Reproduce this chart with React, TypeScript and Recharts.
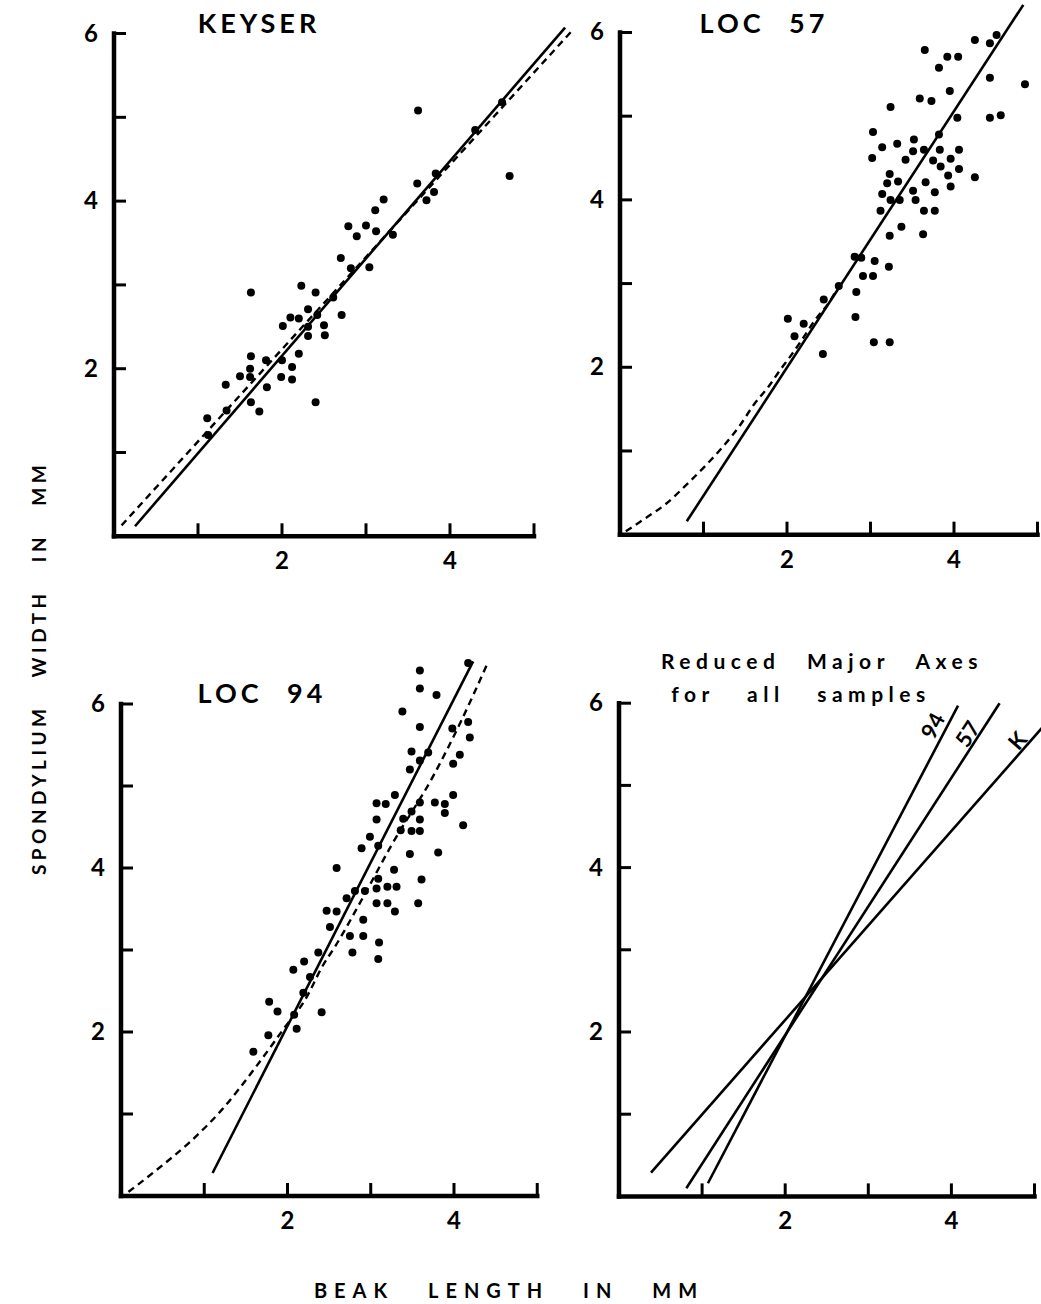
import React from 'react';
import { ComposedChart, XAxis, YAxis, Scatter, Line, ReferenceLine, ReferenceDot } from 'recharts';

// ---------- data ----------
const xTickValues = [1, 2, 3, 4, 5];
const yTickValues = [1, 2, 3, 4, 5, 6];
const xTickLabels: Record<number, string> = { 2: '2', 4: '4' };
const yTickLabels: Record<number, string> = { 2: '2', 4: '4', 6: '6' };

const keyserPoints = [
  [3.62, 5.08], [4.71, 4.3], [3.61, 4.21], [3.72, 4.01], [3.81, 4.11], [3.83, 4.33], [3.21, 4.02],
  [3.11, 3.89], [2.79, 3.7], [3.0, 3.71], [2.89, 3.58], [3.12, 3.64], [3.32, 3.6], [2.7, 3.32],
  [3.04, 3.21], [2.82, 3.2], [1.63, 2.91], [2.23, 2.99], [2.4, 2.91], [2.61, 2.85], [2.71, 2.64],
  [2.31, 2.71], [2.42, 2.64], [2.1, 2.61], [2.2, 2.6], [2.01, 2.51], [2.31, 2.5], [2.5, 2.52],
  [2.31, 2.39], [2.51, 2.4], [2.2, 2.18], [1.63, 2.15], [1.81, 2.1], [2.0, 2.1], [2.12, 2.02],
  [1.5, 1.91], [1.62, 2.0], [1.62, 1.9], [1.33, 1.81], [1.82, 1.78], [1.99, 1.9], [2.12, 1.87],
  [1.63, 1.6], [1.73, 1.49], [2.4, 1.6], [1.34, 1.5], [1.11, 1.41], [1.12, 1.21], [4.3, 4.85], [4.62, 5.18],
].map(([x, y]) => ({ x, y }));
const keyserSolid = [{ x: 0.25, y: 0.12 }, { x: 5.37, y: 6.07 }];
const keyserDashed = [{ x: 0.09, y: 0.13 }, { x: 5.45, y: 6.03 }];

const loc57Points = [
  [3.65, 5.79], [3.92, 5.71], [4.05, 5.71], [3.82, 5.58], [4.25, 5.91], [4.43, 5.87], [4.51, 5.97],
  [4.85, 5.38], [4.43, 5.46], [3.95, 5.3], [3.59, 5.21], [3.73, 5.18], [3.24, 5.11], [4.04, 4.98],
  [4.43, 4.98], [4.56, 5.01], [3.03, 4.81], [3.82, 4.78], [3.14, 4.63], [3.32, 4.67], [3.52, 4.72],
  [3.51, 4.58], [3.64, 4.6], [3.83, 4.6], [4.06, 4.6], [3.02, 4.5], [3.42, 4.48], [3.75, 4.47],
  [3.96, 4.49], [3.84, 4.4], [4.06, 4.37], [4.25, 4.27], [3.93, 4.29], [3.23, 4.31], [3.2, 4.2],
  [3.33, 4.22], [3.66, 4.21], [3.96, 4.16], [3.51, 4.11], [3.77, 4.09], [3.14, 4.07], [3.24, 4.0],
  [3.35, 4.0], [3.54, 4.0], [3.12, 3.87], [3.64, 3.87], [3.77, 3.87], [3.37, 3.68], [3.23, 3.57],
  [3.63, 3.59], [2.81, 3.32], [2.89, 3.31], [3.05, 3.27], [3.22, 3.2], [2.91, 3.09], [3.03, 3.09],
  [2.83, 2.9], [2.62, 2.97], [2.44, 2.81], [2.82, 2.6], [2.01, 2.58], [2.2, 2.52], [2.09, 2.37],
  [2.43, 2.16], [3.04, 2.3], [3.23, 2.3],
].map(([x, y]) => ({ x, y }));
const loc57Solid = [{ x: 0.8, y: 0.16 }, { x: 4.83, y: 6.33 }];
const loc57Dashed = [
  [0.07, 0.04], [0.31, 0.2], [0.54, 0.36], [0.82, 0.62], [1.02, 0.82], [1.24, 1.06], [1.44, 1.31],
  [1.6, 1.55], [1.78, 1.77], [1.92, 1.97], [2.04, 2.13], [2.18, 2.33], [2.34, 2.57], [2.5, 2.77], [2.62, 2.97],
].map(([x, y]) => ({ x, y }));

const loc94Points = [
  [4.17, 6.5], [3.59, 6.41], [3.59, 6.19], [3.79, 6.11], [3.38, 5.91], [3.59, 5.72], [4.17, 5.78],
  [3.98, 5.7], [4.19, 5.59], [3.49, 5.42], [3.69, 5.41], [4.07, 5.38], [3.59, 5.31], [3.47, 5.2],
  [3.99, 5.27], [3.29, 4.89], [3.07, 4.79], [3.18, 4.78], [3.59, 4.8], [3.77, 4.8], [3.89, 4.78],
  [3.99, 4.89], [3.49, 4.69], [3.89, 4.67], [3.07, 4.59], [3.39, 4.6], [3.59, 4.59], [4.11, 4.52],
  [3.36, 4.46], [3.49, 4.45], [3.59, 4.45], [2.99, 4.38], [3.09, 4.27], [2.89, 4.24], [3.47, 4.17],
  [3.81, 4.19], [2.59, 4.0], [3.28, 3.98], [3.09, 3.87], [3.61, 3.86], [3.07, 3.75], [3.2, 3.77],
  [3.31, 3.77], [2.81, 3.72], [2.93, 3.72], [3.07, 3.57], [3.2, 3.57], [3.57, 3.57], [3.29, 3.47],
  [2.47, 3.48], [2.59, 3.47], [2.91, 3.37], [2.51, 3.28], [2.91, 3.17], [2.75, 3.17], [2.71, 3.63],
  [3.1, 3.09], [3.09, 2.89], [2.78, 2.97], [2.37, 2.97], [2.2, 2.86], [2.07, 2.76], [2.27, 2.67],
  [2.19, 2.48], [1.78, 2.37], [1.88, 2.25], [2.41, 2.24], [2.08, 2.21], [2.11, 2.04], [1.77, 1.96],
  [1.59, 1.76],
].map(([x, y]) => ({ x, y }));
const loc94Solid = [{ x: 1.1, y: 0.28 }, { x: 4.23, y: 6.52 }];
const loc94Dashed = [
  [0.09, 0.05], [0.43, 0.32], [0.83, 0.66], [1.21, 1.05], [1.61, 1.56], [1.97, 2.06], [2.21, 2.39],
  [2.43, 2.82], [2.57, 3.04], [2.89, 3.61], [3.25, 4.28], [3.75, 5.12], [4.08, 5.78], [4.4, 6.49],
].map(([x, y]) => ({ x, y }));

const rma94 = [{ x: 1.07, y: 0.16 }, { x: 4.08, y: 5.97 }];
const rma57 = [{ x: 0.81, y: 0.1 }, { x: 4.58, y: 6.0 }];
const rmaK = [{ x: 0.385, y: 0.29 }, { x: 5.5, y: 6.17 }];
const rmaLabels = [
  { x: 3.77, y: 5.73, text: '94' },
  { x: 4.19, y: 5.63, text: '57' },
  { x: 4.79, y: 5.55, text: 'K' },
];
const rmaLabelAngles = [-62, -57, -49];

// ---------- styling ----------
const FONT = 'Lato, "DejaVu Sans", sans-serif';
const Y_W = 60;
const X_H = 50;

const XTick = (props: any) => {
  const { x, y, payload } = props;
  const label = xTickLabels[payload.value];
  return (
    <g>
      <line x1={x} y1={y} x2={x} y2={y - 13} stroke="#000" strokeWidth={3} />
      {label && (
        <text x={x} y={y + 33} textAnchor="middle" fontFamily={FONT} fontWeight={700} fontSize={24} fill="#000">
          {label}
        </text>
      )}
    </g>
  );
};

const YTick = (props: any) => {
  const { x, y, payload } = props;
  const label = yTickLabels[payload.value];
  return (
    <g>
      <line x1={x} y1={y} x2={x + 12} y2={y} stroke="#000" strokeWidth={3} />
      {label && (
        <text x={x - 16} y={y + 8} textAnchor="end" fontFamily={FONT} fontWeight={700} fontSize={24} fill="#000">
          {label}
        </text>
      )}
    </g>
  );
};

const Dot = (p: any) => <circle cx={p.cx} cy={p.cy} r={4} fill="#000" />;

type PanelProps = {
  x0: number; y0: number; sx: number; sy: number; xMax: number; yMax: number;
  children?: React.ReactNode;
};

function Panel({ x0, y0, sx, sy, xMax, yMax, children }: PanelProps) {
  const L = x0 - Y_W;
  const T = y0 - yMax * sy;
  const W = Y_W + xMax * sx;
  const H = yMax * sy + X_H;
  return (
    <div style={{ position: 'absolute', left: L, top: T }}>
      <ComposedChart width={W} height={H} margin={{ top: 0, right: 0, bottom: 0, left: 0 }}>
        <XAxis
          type="number" dataKey="x" domain={[0, xMax]} ticks={xTickValues} interval={0}
          axisLine={false} tickLine={false} tickSize={0} tickMargin={0} height={X_H} tick={<XTick />}
        />
        <YAxis
          type="number" dataKey="y" domain={[0, yMax]} ticks={yTickValues} interval={0}
          axisLine={false} tickLine={false} tickSize={0} tickMargin={0} width={Y_W} tick={<YTick />}
        />
        <ReferenceLine segment={[{ x: 0, y: 0 }, { x: 5, y: 0 }]} stroke="#000" strokeWidth={4.5} strokeLinecap="square" />
        <ReferenceLine segment={[{ x: 0, y: 0 }, { x: 0, y: 6 }]} stroke="#000" strokeWidth={4.5} strokeLinecap="square" />
        {children}
      </ComposedChart>
    </div>
  );
}

const solidLine = (data: any[], key: string) => (
  <Line key={key} data={data} dataKey="y" type="linear" stroke="#000" strokeWidth={2.6} dot={false} activeDot={false} isAnimationActive={false} />
);
const dashedLine = (data: any[], key: string) => (
  <Line key={key} data={data} dataKey="y" type="monotone" stroke="#000" strokeWidth={2.4} strokeDasharray="7 5" dot={false} activeDot={false} isAnimationActive={false} />
);
const points = (data: any[], key: string) => (
  <Scatter key={key} data={data} fill="#000" shape={<Dot />} isAnimationActive={false} />
);

const textStyle = (size: number, spacing: number, word: number, weight = 700): React.CSSProperties => ({
  position: 'absolute',
  transform: 'translate(-50%, -50%)',
  fontFamily: FONT,
  fontWeight: weight,
  fontSize: size,
  letterSpacing: spacing,
  wordSpacing: word,
  whiteSpace: 'pre',
  lineHeight: 1,
  color: '#000',
});

export default function App() {
  return (
    <div style={{ position: 'absolute', left: 0, top: 0, width: 1041, height: 1304, overflow: 'hidden', background: '#fff' }}>
      <Panel x0={114} y0={536} sx={84} sy={83.8} xMax={5.6} yMax={6.4}>
        {dashedLine(keyserDashed, 'kd')}
        {solidLine(keyserSolid, 'ks')}
        {points(keyserPoints, 'kp')}
      </Panel>
      <Panel x0={619.5} y0={535} sx={83.5} sy={83.7} xMax={5.6} yMax={6.4}>
        {dashedLine(loc57Dashed, 'd57')}
        {solidLine(loc57Solid, 's57')}
        {points(loc57Points, 'p57')}
      </Panel>
      <Panel x0={120.75} y0={1196} sx={83.25} sy={82} xMax={5.6} yMax={7}>
        {dashedLine(loc94Dashed, 'd94')}
        {solidLine(loc94Solid, 's94')}
        {points(loc94Points, 'p94')}
      </Panel>
      <Panel x0={619} y0={1196} sx={83.1} sy={82.2} xMax={5.6} yMax={7}>
        {solidLine(rma94, 'r94')}
        {solidLine(rma57, 'r57')}
        {solidLine(rmaK, 'rK')}
        {rmaLabels.map((l, i) => (
          <ReferenceDot
            key={l.text}
            x={l.x}
            y={l.y}
            r={0}
            ifOverflow="visible"
            shape={(p: any) => (
              <text
                x={p.cx}
                y={p.cy}
                textAnchor="middle"
                dominantBaseline="central"
                transform={`rotate(${rmaLabelAngles[i]} ${p.cx} ${p.cy})`}
                fontFamily={FONT}
                fontWeight={700}
                fontSize={22}
                fill="#000"
              >
                {l.text}
              </text>
            )}
          />
        ))}
      </Panel>

      <div style={{ ...textStyle(27, 4, 0), left: 259, top: 22 }}>KEYSER</div>
      <div style={{ ...textStyle(27, 4, 14), left: 764, top: 22 }}>LOC 57</div>
      <div style={{ ...textStyle(27, 4, 14), left: 262, top: 692 }}>LOC 94</div>
      <div style={{ ...textStyle(21, 5.5, 16), left: 822, top: 660 }}>Reduced Major Axes</div>
      <div style={{ ...textStyle(21, 5.5, 22), left: 801, top: 693 }}>for all samples</div>
      <div style={{ ...textStyle(19, 4.5, 18), left: 38, top: 668, transform: 'translate(-50%, -50%) rotate(-90deg)' }}>
        SPONDYLIUM WIDTH IN MM
      </div>
      <div style={{ ...textStyle(20, 7, 22), left: 509, top: 1290 }}>BEAK LENGTH IN MM</div>
    </div>
  );
}
